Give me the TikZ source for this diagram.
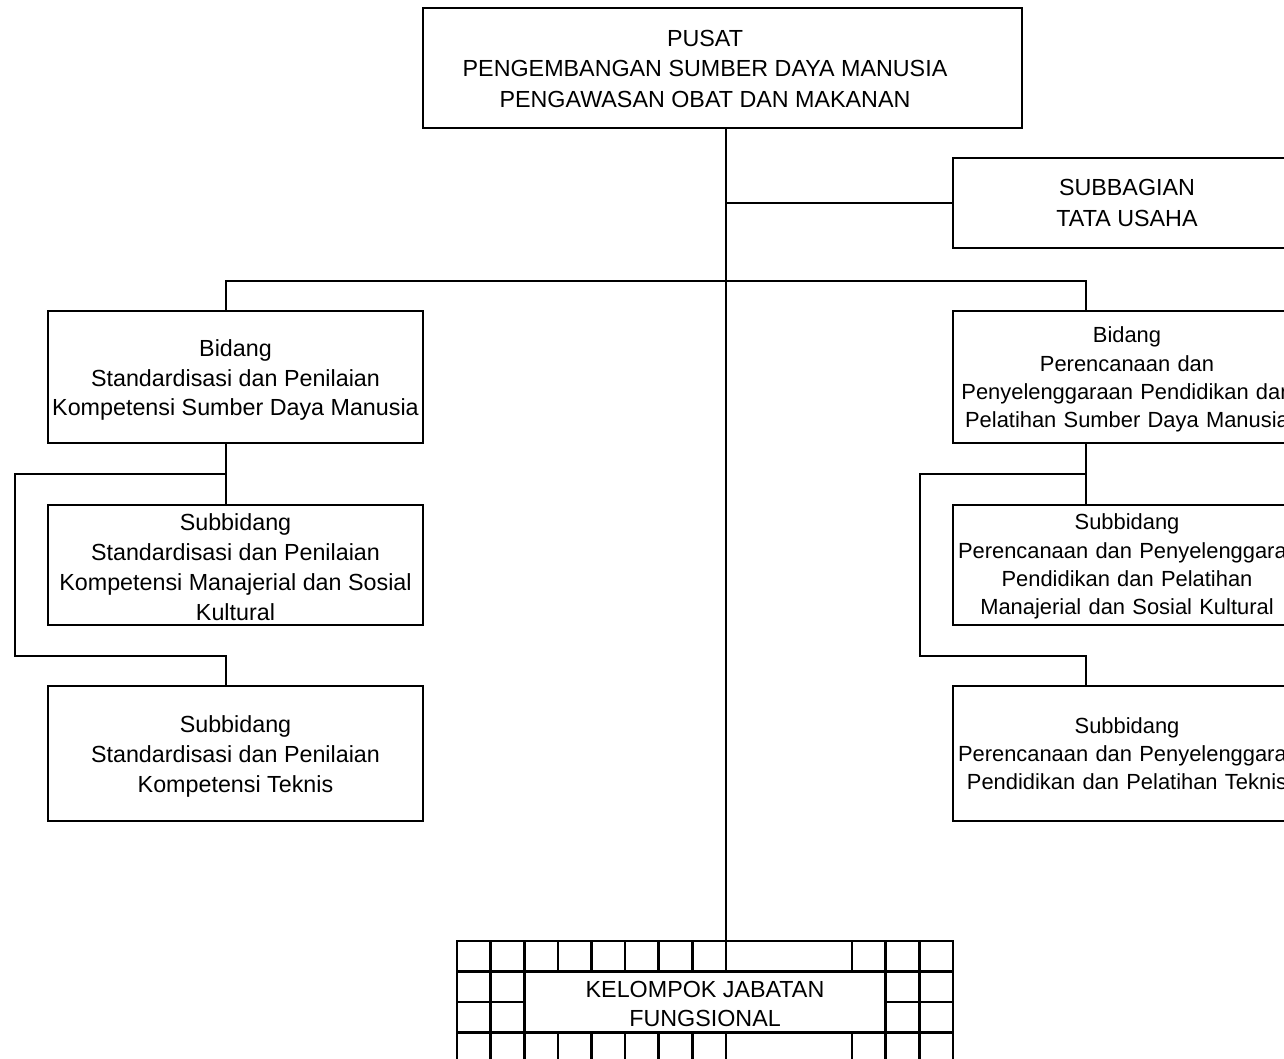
\documentclass[tikz,border=0pt]{standalone}
\usepackage{fontspec}
\setmainfont{Liberation Sans}
\begin{document}
\begin{tikzpicture}[x=1pt,y=-1pt,
  line width=2.6pt, line cap=rect,
  lbl/.style={inner sep=0pt, align=center, font=\fontsize{23.3}{29.8}\selectfont},
  headlbl/.style={lbl, font=\fontsize{23.3}{30.5}\selectfont},
  % right-hand column: narrower type, fixed text area, long lines run past the frame
  lblr/.style={inner sep=0pt, align=center, text width=338pt,
    font=\fontsize{21.9}{28.3}\selectfont},
  orgbox/.style={draw, rectangle, inner sep=0pt},
  wideleft/.style={orgbox, minimum width=375pt},
  wideright/.style={orgbox, minimum width=348pt}]
\useasboundingbox (0,0) rectangle (1284,1058);
\fill[white] (0,0) rectangle (1284,1058);
\clip (0,0) rectangle (1284,1058);

% head office
\node[orgbox, minimum width=599pt, minimum height=120pt] (top) at (722.5,68) {};
\node[headlbl] (toptext) at (705,68.5) {PUSAT\\PENGEMBANGAN SUMBER DAYA MANUSIA\\PENGAWASAN OBAT DAN MAKANAN};

% administration
\node[wideright, minimum height=90pt,
  label={[headlbl]center:{SUBBAGIAN\\TATA USAHA}}] (tu) at (1127,203) {};

% left division
\node[wideleft, minimum height=132pt,
  label={[lbl,yshift=-3pt]center:{Bidang\\Standardisasi dan Penilaian\\Kompetensi Sumber Daya Manusia}}]
  (lb) at (235.5,377) {};
\node[wideleft, minimum height=120pt,
  label={[lbl,yshift=-2pt]center:{Subbidang\\Standardisasi dan Penilaian\\Kompetensi Manajerial dan Sosial\\Kultural}}]
  (ls1) at (235.5,565) {};
\node[wideleft, minimum height=135pt,
  label={[lbl,yshift=-3pt]center:{Subbidang\\Standardisasi dan Penilaian\\Kompetensi Teknis}}]
  (ls2) at (235.5,753.5) {};

% right division
\node[wideright, minimum height=132pt,
  label={[lblr,yshift=-2.5pt]center:{\mbox{Bidang}\\\mbox{Perencanaan dan}\\\mbox{Penyelenggaraan Pendidikan dan}\\\mbox{Pelatihan Sumber Daya Manusia}}}]
  (rb) at (1127,377) {};
\node[wideright, minimum height=120pt,
  label={[lblr,yshift=-1.5pt]center:{\mbox{Subbidang}\\\mbox{Perencanaan dan Penyelenggaraan}\\\mbox{Pendidikan dan Pelatihan}\\\mbox{Manajerial dan Sosial Kultural}}}]
  (rs1) at (1127,565) {};
\node[wideright, minimum height=135pt,
  label={[lblr]center:{\mbox{Subbidang}\\\mbox{Perencanaan dan Penyelenggaraan}\\\mbox{Pendidikan dan Pelatihan Teknis}}}]
  (rs2) at (1127,753.5) {};

% junction points
\coordinate (trunk) at (725.8,941);
\coordinate (lj) at (226,281);
\coordinate (rj) at (1086,281);
\coordinate (lup) at (226,474);
\coordinate (llow) at (226,656);
\coordinate (lcorner) at (15,656);
\coordinate (rup) at (1086,474);
\coordinate (rlow) at (1086,656);
\coordinate (rcorner) at (920,656);

% connectors
\draw (top.south -| trunk) -- (trunk);
\draw (tu.west -| trunk) -- (tu.west);
\draw (lb.north -| lj) -- (lj) -- (rj) -- (rb.north -| rj);
\draw (lb.south -| lj) -- (ls1.north -| lj);
\draw (lup) -| (lcorner) -- (llow) -- (ls2.north -| llow);
\draw (rb.south -| rj) -- (rs1.north -| rj);
\draw (rup) -| (rcorner) -- (rlow) -- (rs2.north -| rlow);

% functional group grid
\node[lbl] (kjf) at (705,1004) {KELOMPOK JABATAN\\FUNGSIONAL};
\foreach \y in {941,971.5,1032.5,1063} \draw (457,\y) -- (952.8,\y);
\draw (457,1002) -- (524.2,1002);
\draw (885.6,1002) -- (952.8,1002);
\foreach \x in {457,490.6,524.2,557.8,591.4,625,658.6,692.2,725.8,852,885.6,919.2,952.8} {
  \draw (\x,941) -- (\x,971.5);
  \draw (\x,1032.5) -- (\x,1063);
}
\foreach \x in {457,490.6,524.2,885.6,919.2,952.8} \draw (\x,971.5) -- (\x,1032.5);
\end{tikzpicture}
\end{document}
